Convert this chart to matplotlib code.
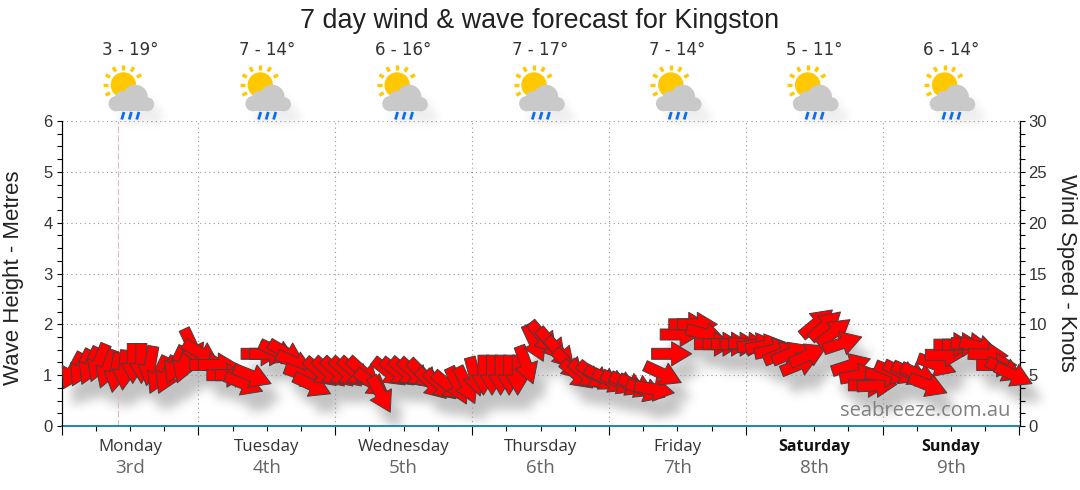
#!/usr/bin/env python3
"""7 day wind and wave forecast chart for Kingston."""

import numpy as np
import matplotlib
matplotlib.use("Agg")
import matplotlib.pyplot as plt
from matplotlib.backends.backend_agg import FigureCanvasAgg
from matplotlib.collections import PolyCollection
from matplotlib.figure import Figure
from matplotlib.patches import Circle, Rectangle
from matplotlib.lines import Line2D
from matplotlib.ticker import MultipleLocator
from matplotlib.transforms import Affine2D, IdentityTransform, blended_transform_factory

DAYS = ["Monday", "Tuesday", "Wednesday", "Thursday", "Friday", "Saturday", "Sunday"]
DATES = ["3rd", "4th", "5th", "6th", "7th", "8th", "9th"]
TEMPS = ["3 - 19°", "7 - 14°", "6 - 16°", "7 - 17°", "7 - 14°", "5 - 11°", "6 - 14°"]
WEEKEND = ["Saturday", "Sunday"]

# one arrow every 1.5 hours
HEIGHTS = [
    1.08, 1.14, 1.18, 1.24, 1.12, 1.05, 1.10, 1.23, 1.23, 1.18, 1.00, 1.00, 1.20, 1.22,
    1.55, 1.43, 1.20, 1.20, 1.00, 1.00, 0.83, 0.98, 1.42, 1.42, 1.45, 1.43, 1.24, 1.00,
    0.80, 1.05, 1.05, 1.05, 1.05, 1.05, 1.05, 0.84, 0.62, 1.05, 1.05, 1.05, 1.03, 1.00,
    0.82, 0.80, 0.78, 0.79, 0.80, 0.97, 1.00, 1.00, 1.00, 1.00, 1.00, 1.20, 1.63, 1.73,
    1.60, 1.43, 1.20, 1.00, 1.00, 0.98, 0.93, 0.88, 0.85, 0.82, 0.78, 0.70, 0.72, 1.02,
    1.42, 1.80, 2.00, 2.00, 1.80, 1.61, 1.61, 1.61, 1.61, 1.61, 1.60, 1.58, 1.50, 1.43,
    1.43, 1.22, 1.40, 2.03, 1.98, 1.85, 1.63, 1.20, 1.00, 0.80, 0.80, 1.00, 1.05, 1.05,
    1.03, 1.00, 0.80, 1.20, 1.40, 1.60, 1.60, 1.60, 1.55, 1.40, 1.20, 1.10, 1.00,
]
HEADINGS = [
    -118, -117, -114, -112, -110, -100, -95, -90, -90, -100, -115, -115, -115, -110,
    -65, -30, 0, 0, 0, 0, -22, -22, 0, 0, -25, -30, -25, -20,
    -25, -40, -42, -42, -42, -42, -42, -36, -62, -38, -38, -40, -42, -45,
    -45, -42, -40, -65, -65, -75, -90, -90, -90, -90, -90, -70, -65, -50,
    -50, -48, -45, -40, -40, -38, -30, -25, -25, -25, -25, -20, -10, -25,
    0, 0, 0, 0, -15, 0, 0, 0, 0, -3, 8, 10, 12, 22,
    22, 22, 25, 40, 42, 38, 18, 18, 10, 0, 3, -5, -22, -25,
    -25, -25, -22, -20, 0, 0, 0, -5, -15, -3, 0, -25, -25,
]
HOURS = 2.0 + 1.5 * np.arange(len(HEIGHTS))

WIDTH, HEIGHT = 1080, 490
LEFT, RIGHT, TOP, BOTTOM = 61.5, 1019.5, 121, 426
TEXT = "#333333"

plt.rcParams["font.family"] = ["Open Sans", "DejaVu Sans"]


def arrow_polys() -> list[np.ndarray]:
    """Arrow outlines in pixels, centred on the data point."""
    shape = np.array([
        [-20, -5.5], [0, -5.5], [0, -12], [20, 0], [0, 12], [0, 5.5], [-20, 5.5],
    ], dtype=float)
    polys = []
    for heading in HEADINGS:
        a = np.radians(heading)
        rot = np.array([[np.cos(a), -np.sin(a)], [np.sin(a), np.cos(a)]])
        polys.append(shape @ rot.T)
    return polys


def setup_axes(fig):
    ax = fig.add_axes([LEFT / WIDTH, 1 - BOTTOM / HEIGHT,
                       (RIGHT - LEFT) / WIDTH, (BOTTOM - TOP) / HEIGHT])
    ax.set_xlim(0, 168)
    ax.set_ylim(0, 6)
    return ax


def arrows_collection(ax, **kw):
    xy = np.column_stack([HOURS, HEIGHTS])
    return PolyCollection(arrow_polys(), offsets=xy, offset_transform=ax.transData,
                          transform=IdentityTransform(), **kw)


def blur(img: np.ndarray, size: int, passes: int = 3) -> np.ndarray:
    kernel = np.ones(size) / size
    for _ in range(passes):
        img = np.apply_along_axis(lambda r: np.convolve(r, kernel, mode="same"), 0, img)
        img = np.apply_along_axis(lambda r: np.convolve(r, kernel, mode="same"), 1, img)
    return img


def render_mask(draw) -> np.ndarray:
    sfig = Figure(figsize=(WIDTH / 100, HEIGHT / 100), dpi=100)
    canvas = FigureCanvasAgg(sfig)
    sfig.patch.set_alpha(0)
    draw(sfig)
    canvas.draw()
    return np.asarray(canvas.buffer_rgba())[:, :, 3] / 255.0


def shadow_layer(px) -> np.ndarray:
    """Blurred RGBA shadows of arrows and icons, rendered off screen."""
    def draw_arrows(sfig):
        sax = setup_axes(sfig)
        sax.axis("off")
        sax.add_collection(arrows_collection(sax, facecolors="k", edgecolors="k", clip_on=False))

    def draw_clouds(sfig):
        for i in range(len(DAYS)):
            draw_cloud(sfig, day_centre(i), px, "k")

    arrows = np.roll(np.roll(render_mask(draw_arrows), 15, axis=0), 8, axis=1)
    clouds = np.roll(np.roll(render_mask(draw_clouds), 11, axis=0), 8, axis=1)
    alpha = blur(arrows, 10) * 0.36 + blur(clouds, 8) * 0.10
    rgba = np.zeros((HEIGHT, WIDTH, 4))
    rgba[:, :, :3] = 0.35
    rgba[:, :, 3] = np.clip(alpha, 0, 1)
    rgba[int(BOTTOM):, :, 3] = 0
    return rgba


def day_centre(i: int) -> float:
    return LEFT + (RIGHT - LEFT) * (12 + 24 * i) / 168


def draw_cloud(fig, cx: float, px, colour: str) -> None:
    for dx, dy, r in ((5.5, 97, 12.3), (-13.8, 103.7, 7.6), (17.2, 104.3, 7), (-7.5, 98.5, 7.5)):
        fig.add_artist(Circle((cx + dx, dy), r, fc=colour, ec="none", transform=px))
    fig.add_artist(Rectangle((cx - 14, 98), 31, 13.3, fc=colour, ec="none", transform=px))


def draw_icon(fig, cx: float, px) -> None:
    """Sun, rain cloud and drops, cx is the day centre in pixels."""
    sx, sy = cx - 6.5, 85
    for ang in (90, 120, 60, 150, 30, 180, 210):
        a = np.radians(ang)
        fig.add_artist(Line2D([sx + 15.5 * np.cos(a), sx + 20.5 * np.cos(a)],
                              [sy - 15.5 * np.sin(a), sy - 20.5 * np.sin(a)],
                              color="#ffc800", lw=2.4, transform=px, solid_capstyle="butt"))
    fig.add_artist(Circle((sx, sy), 12.7, fc="#ffc800", ec="none", transform=px))
    for dx in (-6, 1.5, 9):
        fig.add_artist(Line2D([cx + dx, cx + dx - 2.2], [112, 119.5], color="#0a6cf0",
                              lw=2, transform=px, solid_capstyle="butt"))
    draw_cloud(fig, cx, px, "#c9c9c9")


def main() -> None:
    fig = plt.figure(figsize=(WIDTH / 100, HEIGHT / 100), dpi=100, facecolor="white")
    px = Affine2D().scale(1, -1).translate(0, HEIGHT)
    ax = setup_axes(fig)
    ax.patch.set_visible(False)

    fig.figimage(shadow_layer(px), origin="upper", zorder=-1)

    # axes and grid
    ax.xaxis.set_major_locator(MultipleLocator(24))
    ax.xaxis.set_minor_locator(MultipleLocator(6))
    ax.yaxis.set_major_locator(MultipleLocator(1))
    ax.yaxis.set_minor_locator(MultipleLocator(0.25))
    ax.tick_params(axis="x", which="major", length=6.5, width=0.8, labelbottom=False)
    ax.tick_params(axis="x", which="minor", length=3.5, width=0.8)
    ax.tick_params(axis="y", which="both", length=3.5, width=0.8, labelsize=12,
                   labelcolor=TEXT, pad=3)
    ax.grid(True, which="major", color="#999999", linestyle=(0, (1, 3)), linewidth=0.8)
    ax.set_axisbelow(True)
    ax.spines["top"].set_visible(False)
    ax.spines["left"].set_linewidth(0.8)
    ax.spines["right"].set_linewidth(0.8)
    ax.spines["bottom"].set_color("#0a7fa8")
    ax.spines["bottom"].set_linewidth(1.3)

    rax = ax.twinx()
    rax.set_ylim(0, 30)
    rax.yaxis.set_major_locator(MultipleLocator(5))
    rax.yaxis.set_minor_locator(MultipleLocator(1.25))
    rax.tick_params(axis="y", which="both", length=3.5, width=0.8, labelsize=12,
                    labelcolor=TEXT, pad=3)
    rax.spines["top"].set_visible(False)
    rax.spines["bottom"].set_visible(False)
    rax.spines["right"].set_linewidth(0.8)
    rax.patch.set_visible(False)

    tick_font = ["Liberation Sans", "DejaVu Sans"]
    for lab in ax.get_yticklabels() + rax.get_yticklabels():
        lab.set_family(tick_font)

    # current time marker
    ax.axvline(9.9, color="#e8b8bc", linewidth=0.8, linestyle=(0, (6, 2)), zorder=1)

    rax.add_collection(arrows_collection(ax, facecolors="#ff0000", edgecolors="#404040",
                                         linewidths=0.7, zorder=3, clip_on=False))

    lab_font = ["Liberation Sans", "DejaVu Sans"]
    fig.text(540 / WIDTH, 1 - 21 / HEIGHT, "7 day wind & wave forecast for Kingston",
             ha="center", va="center", fontsize=19.4, color="#222222", family=lab_font)
    fig.text(14 / WIDTH, 1 - 278 / HEIGHT, "Wave Height - Metres", rotation=90, ha="center",
             va="center", fontsize=16, color="#222222", family=lab_font)
    fig.text(1067 / WIDTH, 1 - 273 / HEIGHT, "Wind Speed - Knots", rotation=270, ha="center",
             va="center", fontsize=16, color="#222222", family=lab_font)
    rax.text(1010, 411, "seabreeze.com.au", transform=px, ha="right", va="center",
             fontsize=14.5, color="#808080", zorder=5)

    xpx = blended_transform_factory(ax.transData, px)
    for i, day in enumerate(DAYS):
        mid = 12 + 24 * i
        weight = "bold" if day in WEEKEND else "normal"
        ax.text(mid, 447, day, transform=xpx, ha="center", va="center",
                fontsize=11.5 if day in WEEKEND else 12.2,
                color="#111111" if day in WEEKEND else TEXT, weight=weight, clip_on=False)
        ax.text(mid, 468, DATES[i], transform=xpx, ha="center", va="center", fontsize=13.5,
                color="#666666", clip_on=False)
        ax.text(mid, 50, TEMPS[i], transform=xpx, ha="center", va="center", fontsize=12,
                color=TEXT, family=["DejaVu Sans"], clip_on=False)
        draw_icon(fig, day_centre(i), px)

    fig.savefig("out.png", dpi=100)
    plt.close(fig)


if __name__ == "__main__":
    main()
